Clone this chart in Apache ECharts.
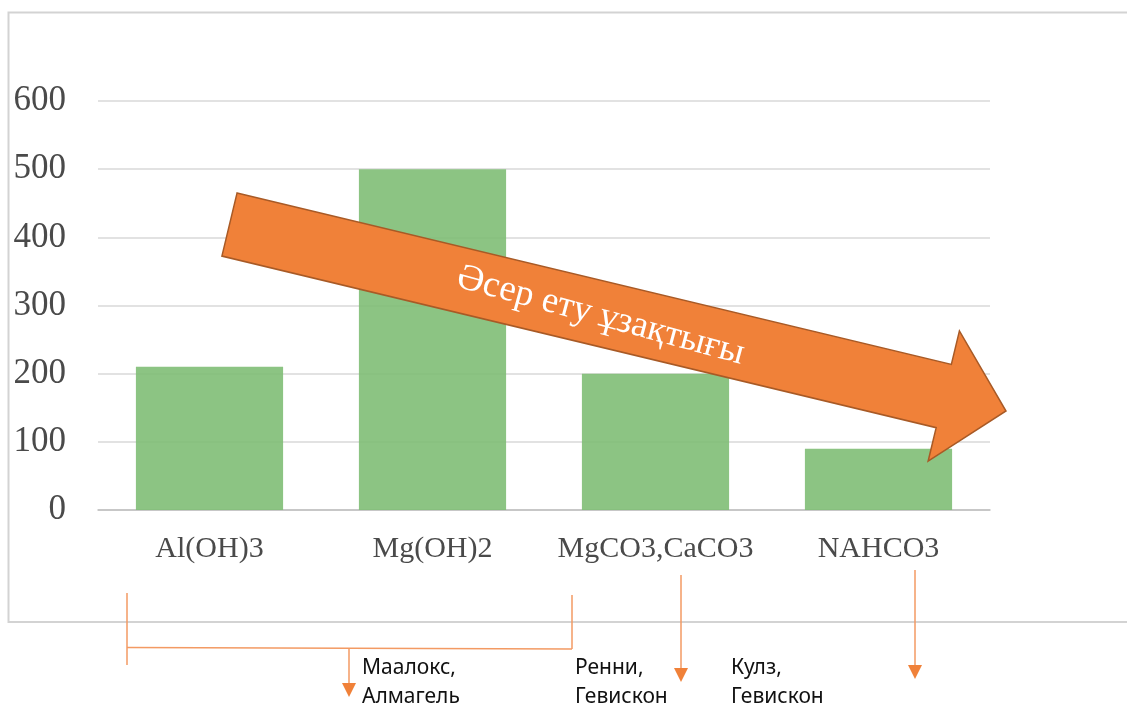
<!DOCTYPE html>
<html>
<head>
<meta charset="utf-8">
<script src="https://cdn.jsdelivr.net/npm/echarts@6/dist/echarts.min.js"></script>
<style>
  html, body { margin: 0; padding: 0; background: #fff; }
  #chart { width: 1127px; height: 708px; }
</style>
</head>
<body>
<div id="chart"></div>
<script>
const categories = ['Al(OH)3', 'Mg(OH)2', 'MgCO3,CaCO3', 'NAHCO3'];
const values = [210, 500, 200, 90];
const yMin = 0, yMax = 600, yStep = 100;
const arrowLabel = 'Әсер ету ұзақтығы';
const noteLabels = [['Маалокс,', 'Алмагель'], ['Ренни,', 'Гевискон'], ['Кулз,', 'Гевискон']];

const chart = echarts.init(document.getElementById('chart'), null, { renderer: 'canvas' });

// big trend arrow geometry (annotation)
const T = [229.5, 224.5], P = [1006, 411];
const L = Math.hypot(P[0] - T[0], P[1] - T[1]);
const u = [(P[0] - T[0]) / L, (P[1] - T[1]) / L];
const n = [-u[1], u[0]];
const sw = 32.5, hw = 67, hl = 64;
function pt(t, s) { return [T[0] + t * u[0] + s * n[0], T[1] + t * u[1] + s * n[1]]; }
const arrowPts = [pt(0, -sw), pt(L - hl, -sw), pt(L - hl, -hw), P, pt(L - hl, hw), pt(L - hl, sw), pt(0, sw)];
const textT = (601 - T[0]) / u[0];
const textPos = pt(textT, 2);

const lineColor = '#F39A63';
const headColor = '#F08139';
function downArrow(x, y1, y2) {
  return [
    { type: 'line', z: 50, shape: { x1: x, y1: y1, x2: x, y2: y2 - 12 }, style: { stroke: lineColor, lineWidth: 1.5 } },
    { type: 'polygon', z: 50, shape: { points: [[x - 7, y2 - 14], [x + 7, y2 - 14], [x, y2]] }, style: { fill: headColor } }
  ];
}
const noteFont = { fontSize: 21, fontFamily: '"Noto Sans", "Open Sans", sans-serif', fill: '#111' };
function note(x, lines) {
  return lines.map((s, i) => ({
    type: 'text', z: 50, x: x, y: 668 + i * 29,
    style: Object.assign({ text: s, align: 'left', verticalAlign: 'middle' }, noteFont)
  }));
}

const graphics = [
  { type: 'rect', z: -10, shape: { x: 8.5, y: 12.5, width: 1200, height: 609.5 }, style: { fill: 'none', stroke: '#d3d3d3', lineWidth: 2 } },
  { type: 'polygon', z: 100, shape: { points: arrowPts }, style: { fill: '#F08139', stroke: '#A85A26', lineWidth: 1.5 } },
  {
    type: 'text', z: 101, x: textPos[0], y: textPos[1], rotation: -Math.atan2(u[1], u[0]) - 0.03,
    style: { text: arrowLabel, fill: '#fff', fontSize: 37, fontFamily: '"Liberation Serif", "DejaVu Serif", serif', align: 'center', verticalAlign: 'middle' }
  },
  // bracket under first two categories
  { type: 'line', z: 50, shape: { x1: 127, y1: 593, x2: 127, y2: 665 }, style: { stroke: lineColor, lineWidth: 1.5 } },
  { type: 'line', z: 50, shape: { x1: 572, y1: 595, x2: 572, y2: 649 }, style: { stroke: lineColor, lineWidth: 1.5 } },
  { type: 'line', z: 50, shape: { x1: 127, y1: 647.5, x2: 572, y2: 649 }, style: { stroke: lineColor, lineWidth: 1.5 } },
  ...downArrow(349, 648.5, 697),
  ...downArrow(681, 575, 682),
  ...downArrow(915, 570, 679),
  ...note(362, noteLabels[0]),
  ...note(575, noteLabels[1]),
  ...note(731, noteLabels[2])
];

chart.setOption({
  animation: false,
  backgroundColor: '#fff',
  grid: { left: 98, right: 137, top: 101, bottom: 198, containLabel: false },
  xAxis: {
    type: 'category',
    data: categories,
    axisLine: { show: true, lineStyle: { color: '#bfbfbf', width: 1.5 } },
    axisTick: { show: false },
    axisLabel: { interval: 0, color: '#4a4a4a', fontSize: 30, fontFamily: '"Liberation Serif", "Times New Roman", serif', margin: 24 }
  },
  yAxis: {
    type: 'value',
    min: yMin, max: yMax, interval: yStep,
    axisLine: { show: false },
    axisTick: { show: false },
    axisLabel: { color: '#4a4a4a', fontSize: 35, fontFamily: '"Liberation Serif", "Times New Roman", serif', margin: 32 },
    splitLine: { lineStyle: { color: '#d9d9d9', width: 1.5 } }
  },
  series: [{
    type: 'bar',
    data: values,
    barWidth: '66%',
    itemStyle: { color: '#80BE76', opacity: 0.9 }
  }],
  graphic: graphics
});
</script>
</body>
</html>
